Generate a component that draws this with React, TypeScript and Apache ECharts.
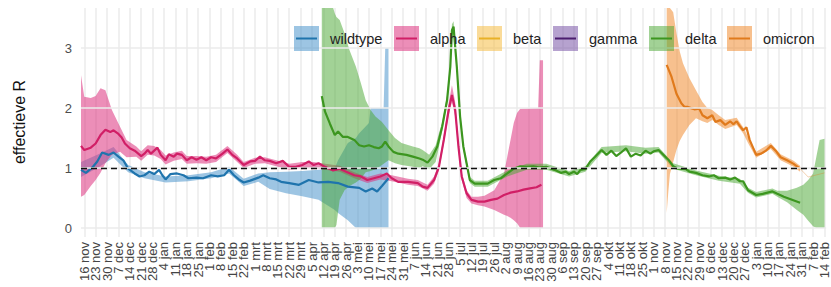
import React, { useEffect, useRef } from "react";
import * as echarts from "echarts";

const MONTHS = ["jan", "feb", "mrt", "apr", "mei", "jun", "jul", "aug", "sep", "okt", "nov", "dec"];
const FIRST_DAY = Date.UTC(2020, 10, 14);
const LAST_DAY = Date.UTC(2022, 1, 15);
const yGridValues = [0, 1, 2, 3];
const refLine = 1;

// [date, R]
const wildtypeLine: [string, number][] = [
  ["2020-11-14", 0.97], ["2020-11-17", 0.92], ["2020-11-21", 1.01], ["2020-11-24", 1.11], ["2020-11-27", 1.26],
  ["2020-12-01", 1.22], ["2020-12-04", 1.26], ["2020-12-07", 1.19], ["2020-12-10", 1.13], ["2020-12-13", 0.99],
  ["2020-12-17", 0.91], ["2020-12-20", 0.86], ["2020-12-23", 0.88], ["2020-12-26", 0.94], ["2020-12-29", 0.9],
  ["2021-01-01", 0.97], ["2021-01-03", 0.88], ["2021-01-05", 0.81], ["2021-01-08", 0.9], ["2021-01-12", 0.91],
  ["2021-01-16", 0.88], ["2021-01-19", 0.83], ["2021-01-24", 0.84], ["2021-01-28", 0.83], ["2021-02-02", 0.88],
  ["2021-02-06", 0.86], ["2021-02-10", 0.88], ["2021-02-13", 0.97], ["2021-02-16", 0.88], ["2021-02-19", 0.81],
  ["2021-02-22", 0.76], ["2021-02-26", 0.79], ["2021-03-03", 0.84], ["2021-03-06", 0.88], ["2021-03-10", 0.83],
  ["2021-03-14", 0.81], ["2021-03-17", 0.77], ["2021-03-22", 0.75], ["2021-03-28", 0.72], ["2021-04-03", 0.8],
  ["2021-04-09", 0.76], ["2021-04-15", 0.77], ["2021-04-21", 0.75], ["2021-04-27", 0.69], ["2021-05-04", 0.67],
  ["2021-05-08", 0.61], ["2021-05-12", 0.66], ["2021-05-15", 0.61], ["2021-05-18", 0.7], ["2021-05-22", 0.83],
];

const alphaLine: [string, number][] = [
  ["2020-11-14", 1.37], ["2020-11-16", 1.3], ["2020-11-20", 1.34], ["2020-11-23", 1.41], ["2020-11-26", 1.55],
  ["2020-11-29", 1.64], ["2020-12-02", 1.6], ["2020-12-04", 1.63], ["2020-12-07", 1.57], ["2020-12-09", 1.51],
  ["2020-12-11", 1.41], ["2020-12-14", 1.33], ["2020-12-17", 1.29], ["2020-12-21", 1.2], ["2020-12-23", 1.24],
  ["2020-12-25", 1.3], ["2020-12-27", 1.24], ["2020-12-29", 1.29], ["2020-12-31", 1.34], ["2021-01-02", 1.22],
  ["2021-01-05", 1.13], ["2021-01-07", 1.23], ["2021-01-10", 1.19], ["2021-01-12", 1.24], ["2021-01-15", 1.22],
  ["2021-01-18", 1.13], ["2021-01-21", 1.18], ["2021-01-24", 1.14], ["2021-01-27", 1.18], ["2021-01-30", 1.13],
  ["2021-02-02", 1.18], ["2021-02-05", 1.16], ["2021-02-09", 1.24], ["2021-02-12", 1.31], ["2021-02-15", 1.22],
  ["2021-02-18", 1.16], ["2021-02-22", 1.05], ["2021-02-26", 1.11], ["2021-03-01", 1.12], ["2021-03-04", 1.19],
  ["2021-03-07", 1.13], ["2021-03-10", 1.12], ["2021-03-14", 1.08], ["2021-03-18", 1.12], ["2021-03-22", 1.02],
  ["2021-03-26", 1.02], ["2021-03-30", 1.05], ["2021-04-03", 1.11], ["2021-04-06", 1.05], ["2021-04-09", 1.08],
  ["2021-04-13", 1.02], ["2021-04-18", 0.96], ["2021-04-22", 0.99], ["2021-04-26", 0.94], ["2021-05-01", 0.88],
  ["2021-05-05", 0.86], ["2021-05-09", 0.8], ["2021-05-13", 0.83], ["2021-05-17", 0.86], ["2021-05-21", 0.91],
  ["2021-05-24", 0.83], ["2021-05-28", 0.77], ["2021-06-03", 0.77], ["2021-06-09", 0.75], ["2021-06-12", 0.69],
  ["2021-06-15", 0.67], ["2021-06-19", 0.8], ["2021-06-22", 1.02], ["2021-06-25", 1.47], ["2021-06-28", 1.97],
  ["2021-06-30", 2.22], ["2021-07-02", 1.97], ["2021-07-04", 1.36], ["2021-07-06", 0.86], ["2021-07-09", 0.58],
  ["2021-07-12", 0.47], ["2021-07-16", 0.44], ["2021-07-20", 0.44], ["2021-07-24", 0.47], ["2021-07-28", 0.49],
  ["2021-08-01", 0.55], ["2021-08-05", 0.59], ["2021-08-09", 0.61], ["2021-08-13", 0.64], ["2021-08-17", 0.66],
  ["2021-08-21", 0.68], ["2021-08-24", 0.72],
];

const deltaLine: [string, number][] = [
  ["2021-04-11", 2.2], ["2021-04-13", 1.94], ["2021-04-16", 1.74], ["2021-04-19", 1.55], ["2021-04-21", 1.61],
  ["2021-04-24", 1.52], ["2021-04-27", 1.52], ["2021-05-01", 1.47], ["2021-05-04", 1.38], ["2021-05-07", 1.36],
  ["2021-05-10", 1.38], ["2021-05-13", 1.35], ["2021-05-16", 1.33], ["2021-05-18", 1.36], ["2021-05-20", 1.44],
  ["2021-05-22", 1.36], ["2021-05-25", 1.27], ["2021-05-28", 1.24], ["2021-06-02", 1.22], ["2021-06-06", 1.19],
  ["2021-06-10", 1.16], ["2021-06-12", 1.14], ["2021-06-15", 1.09], ["2021-06-18", 1.19], ["2021-06-21", 1.36],
  ["2021-06-24", 1.69], ["2021-06-27", 2.13], ["2021-06-29", 2.69], ["2021-06-30", 3.3], ["2021-07-01", 3.36],
  ["2021-07-03", 2.69], ["2021-07-05", 1.86], ["2021-07-07", 1.36], ["2021-07-09", 1.08], ["2021-07-11", 0.8],
  ["2021-07-14", 0.74], ["2021-07-18", 0.74], ["2021-07-22", 0.74], ["2021-07-26", 0.8], ["2021-07-30", 0.83],
  ["2021-08-03", 0.91], ["2021-08-07", 0.99], ["2021-08-11", 1.03], ["2021-08-15", 1.02], ["2021-08-19", 1.03],
  ["2021-08-23", 1.01], ["2021-08-27", 1.02], ["2021-09-01", 0.97], ["2021-09-05", 0.92], ["2021-09-08", 0.94],
  ["2021-09-10", 0.9], ["2021-09-13", 0.94], ["2021-09-15", 0.9], ["2021-09-17", 0.97], ["2021-09-20", 0.98],
  ["2021-09-23", 1.11], ["2021-09-26", 1.19], ["2021-09-30", 1.3], ["2021-10-03", 1.22], ["2021-10-06", 1.29],
  ["2021-10-09", 1.2], ["2021-10-12", 1.26], ["2021-10-15", 1.33], ["2021-10-18", 1.19], ["2021-10-21", 1.24],
  ["2021-10-24", 1.21], ["2021-10-27", 1.29], ["2021-10-30", 1.24], ["2021-11-01", 1.28], ["2021-11-04", 1.3],
  ["2021-11-07", 1.22], ["2021-11-10", 1.14], ["2021-11-13", 1.03], ["2021-11-16", 0.99], ["2021-11-21", 0.98],
  ["2021-11-23", 0.94], ["2021-11-27", 0.92], ["2021-12-01", 0.88], ["2021-12-05", 0.86], ["2021-12-08", 0.88],
  ["2021-12-11", 0.83], ["2021-12-15", 0.84], ["2021-12-18", 0.81], ["2021-12-21", 0.84], ["2021-12-24", 0.78],
  ["2021-12-26", 0.78], ["2021-12-29", 0.63], ["2022-01-03", 0.55], ["2022-01-07", 0.57], ["2022-01-10", 0.59],
  ["2022-01-13", 0.61], ["2022-01-16", 0.57], ["2022-01-20", 0.52], ["2022-01-25", 0.47], ["2022-01-30", 0.42],
];

const omicronLine: [string, number][] = [
  ["2021-11-09", 2.72], ["2021-11-12", 2.52], ["2021-11-15", 2.24], ["2021-11-18", 2.08], ["2021-11-20", 2.02],
  ["2021-11-22", 2.02], ["2021-11-24", 2.0], ["2021-11-26", 1.98], ["2021-11-29", 1.99], ["2021-12-01", 1.88],
  ["2021-12-04", 1.83], ["2021-12-07", 1.88], ["2021-12-09", 1.77], ["2021-12-12", 1.8], ["2021-12-15", 1.72],
  ["2021-12-18", 1.78], ["2021-12-20", 1.73], ["2021-12-22", 1.78], ["2021-12-24", 1.7], ["2021-12-26", 1.63],
  ["2021-12-28", 1.68], ["2021-12-30", 1.47], ["2022-01-03", 1.22], ["2022-01-06", 1.24], ["2022-01-09", 1.29],
  ["2022-01-12", 1.37], ["2022-01-15", 1.29], ["2022-01-18", 1.18], ["2022-01-22", 1.13], ["2022-01-26", 1.07],
  ["2022-01-30", 0.99],
];

const omicronTail: [string, number][] = [
  ["2022-01-30", 0.99], ["2022-02-04", 0.85], ["2022-02-14", 0.92],
];

// [date, lower, upper]
const wildtypeBand: [string, number, number][] = [
  ["2020-11-14", 0.85, 1.1], ["2020-11-24", 1.0, 1.22], ["2020-12-04", 1.17, 1.35], ["2020-12-13", 0.93, 1.05],
  ["2020-12-23", 0.83, 0.93], ["2021-01-05", 0.76, 0.86], ["2021-01-19", 0.78, 0.88], ["2021-02-02", 0.83, 0.93],
  ["2021-02-13", 0.91, 1.02], ["2021-02-22", 0.7, 0.82], ["2021-03-03", 0.77, 0.91], ["2021-03-10", 0.65, 0.93],
  ["2021-03-20", 0.58, 0.94], ["2021-03-30", 0.53, 0.95], ["2021-04-09", 0.47, 0.97], ["2021-04-19", 0.3, 1.0],
  ["2021-04-21", 0.25, 1.13], ["2021-04-27", 0.13, 1.42], ["2021-05-02", 0.0, 1.5], ["2021-05-04", 0.0, 1.58],
  ["2021-05-10", 0.0, 1.75], ["2021-05-11", 0.0, 2.0], ["2021-05-19", 0.0, 2.0], ["2021-05-20", 0.0, 3.0],
  ["2021-05-22", 0.0, 3.0],
];

const alphaBand: [string, number, number][] = [
  ["2020-11-14", 0.52, 2.55], ["2020-11-16", 0.55, 2.19], ["2020-11-20", 0.7, 2.17], ["2020-11-23", 0.8, 2.2],
  ["2020-11-26", 0.92, 2.33], ["2020-11-29", 1.08, 2.3], ["2020-12-03", 1.22, 1.97], ["2020-12-08", 1.27, 1.69],
  ["2020-12-12", 1.18, 1.47], ["2020-12-18", 1.19, 1.36], ["2020-12-21", 1.12, 1.28], ["2020-12-25", 1.22, 1.38],
  ["2020-12-29", 1.21, 1.37], ["2021-01-02", 1.15, 1.3], ["2021-01-05", 1.06, 1.21], ["2021-01-10", 1.12, 1.26],
  ["2021-01-15", 1.15, 1.29], ["2021-01-18", 1.07, 1.2], ["2021-01-24", 1.08, 1.2], ["2021-01-30", 1.07, 1.19],
  ["2021-02-05", 1.1, 1.22], ["2021-02-12", 1.25, 1.37], ["2021-02-18", 1.1, 1.22], ["2021-02-22", 1.0, 1.1],
  ["2021-03-01", 1.07, 1.17], ["2021-03-07", 1.08, 1.18], ["2021-03-14", 1.03, 1.13], ["2021-03-22", 0.97, 1.07],
  ["2021-03-30", 1.0, 1.1], ["2021-04-06", 1.0, 1.1], ["2021-04-13", 0.97, 1.07], ["2021-04-22", 0.94, 1.04],
  ["2021-05-01", 0.83, 0.93], ["2021-05-09", 0.75, 0.85], ["2021-05-17", 0.81, 0.91], ["2021-05-24", 0.78, 0.88],
  ["2021-06-03", 0.72, 0.82], ["2021-06-09", 0.7, 0.8], ["2021-06-15", 0.62, 0.72], ["2021-06-19", 0.74, 0.86],
  ["2021-06-22", 0.96, 1.08], ["2021-06-25", 1.4, 1.55], ["2021-06-28", 1.88, 2.08], ["2021-06-30", 2.1, 2.38],
  ["2021-07-02", 1.86, 2.1], ["2021-07-04", 1.28, 1.45], ["2021-07-06", 0.8, 0.93], ["2021-07-09", 0.5, 0.63],
  ["2021-07-12", 0.41, 0.52], ["2021-07-16", 0.38, 0.52], ["2021-07-20", 0.36, 0.54], ["2021-07-26", 0.3, 0.63],
  ["2021-08-01", 0.22, 0.91], ["2021-08-03", 0.2, 1.19], ["2021-08-05", 0.17, 1.47], ["2021-08-07", 0.13, 1.75],
  ["2021-08-09", 0.08, 1.92], ["2021-08-11", 0.0, 1.99], ["2021-08-22", 0.0, 2.0], ["2021-08-23", 0.0, 2.8],
  ["2021-08-25", 0.0, 2.8],
];

const deltaBand: [string, number, number][] = [
  ["2021-04-11", 0.0, 3.67], ["2021-04-18", 0.0, 3.67], ["2021-04-19", 0.0, 3.58], ["2021-04-20", 0.05, 3.52],
  ["2021-04-22", 0.47, 3.47], ["2021-04-25", 0.63, 3.25], ["2021-04-28", 0.7, 2.97], ["2021-05-02", 0.76, 2.69],
  ["2021-05-05", 0.82, 2.42], ["2021-05-08", 0.93, 2.13], ["2021-05-11", 0.95, 1.97], ["2021-05-14", 0.98, 1.86],
  ["2021-05-18", 1.05, 1.77], ["2021-05-22", 1.13, 1.63], ["2021-05-26", 1.08, 1.5], ["2021-05-30", 1.05, 1.42],
  ["2021-06-06", 1.02, 1.36], ["2021-06-10", 1.0, 1.33], ["2021-06-12", 1.03, 1.3], ["2021-06-16", 0.98, 1.22],
  ["2021-06-20", 1.1, 1.38], ["2021-06-22", 1.35, 1.58], ["2021-06-24", 1.62, 1.76], ["2021-06-27", 2.05, 2.21],
  ["2021-06-29", 2.6, 2.78], ["2021-06-30", 3.2, 3.4], ["2021-07-01", 3.27, 3.45], ["2021-07-03", 2.6, 2.78],
  ["2021-07-05", 1.78, 1.94], ["2021-07-07", 1.3, 1.42], ["2021-07-09", 1.02, 1.14], ["2021-07-11", 0.75, 0.85],
  ["2021-07-14", 0.69, 0.79], ["2021-07-22", 0.69, 0.79], ["2021-08-03", 0.86, 0.96], ["2021-08-15", 0.97, 1.07],
  ["2021-08-27", 0.97, 1.07], ["2021-09-10", 0.86, 0.95], ["2021-09-20", 0.94, 1.03], ["2021-09-30", 1.25, 1.35],
  ["2021-10-15", 1.28, 1.38], ["2021-10-27", 1.24, 1.34], ["2021-11-04", 1.26, 1.35], ["2021-11-13", 0.99, 1.08],
  ["2021-11-27", 0.88, 0.96], ["2021-12-11", 0.79, 0.87], ["2021-12-24", 0.74, 0.82], ["2021-12-29", 0.59, 0.67],
  ["2022-01-03", 0.51, 0.6], ["2022-01-13", 0.57, 0.66], ["2022-01-16", 0.52, 0.62], ["2022-01-22", 0.43, 0.62],
  ["2022-01-28", 0.3, 0.67], ["2022-02-01", 0.22, 0.72], ["2022-02-04", 0.12, 0.8], ["2022-02-07", 0.03, 0.91],
  ["2022-02-09", 0.0, 1.19], ["2022-02-11", 0.0, 1.47], ["2022-02-14", 0.0, 1.49],
];

const omicronBand: [string, number, number][] = [
  ["2021-11-09", 0.25, 3.67], ["2021-11-10", 0.6, 3.67], ["2021-11-11", 0.9, 3.67], ["2021-11-13", 1.1, 3.6],
  ["2021-11-15", 1.3, 3.25], ["2021-11-17", 1.45, 2.95], ["2021-11-19", 1.55, 2.75], ["2021-11-23", 1.72, 2.5],
  ["2021-11-27", 1.83, 2.3], ["2021-12-01", 1.78, 2.1], ["2021-12-04", 1.75, 2.0], ["2021-12-07", 1.8, 1.97],
  ["2021-12-11", 1.72, 1.88], ["2021-12-15", 1.65, 1.8], ["2021-12-22", 1.72, 1.84], ["2021-12-26", 1.58, 1.68],
  ["2021-12-29", 1.42, 1.52], ["2022-01-03", 1.17, 1.27], ["2022-01-12", 1.32, 1.42], ["2022-01-18", 1.13, 1.23],
  ["2022-01-26", 1.02, 1.12], ["2022-01-30", 0.94, 1.04],
];

const legendNames = ["wildtype", "alpha", "beta", "gamma", "delta", "omicron"];
const lineColors: Record<string, string> = {
  wildtype: "#1f74ad", alpha: "#d11f66", beta: "#e9b126", gamma: "#4b1d6e", delta: "#3c961f", omicron: "#e07a1c",
};
const bandFills: Record<string, string> = {
  wildtype: "rgba(60,140,200,0.5)", alpha: "rgba(220,50,125,0.55)", beta: "rgba(245,190,70,0.55)",
  gamma: "rgba(110,70,160,0.5)", delta: "rgba(70,165,45,0.5)", omicron: "rgba(240,140,50,0.55)",
};
const legendX = [294, 394, 477, 553, 649, 727];

const days: string[] = [];
for (let t = FIRST_DAY; t <= LAST_DAY; t += 86400000) days.push(new Date(t).toISOString().slice(0, 10));
const dayIndex: Record<string, number> = {};
days.forEach((d, i) => (dayIndex[d] = i));
const isMonday = (i: number) => new Date(days[i] + "T00:00:00Z").getUTCDay() === 1;
// the first and last category carry an empty label so the edge-label overlap rule never hides a date
const labelAt = (i: number) => i === 0 || i === days.length - 1 || isMonday(i);

const FONT = "'Liberation Sans', Arial, Helvetica, sans-serif";

function lineSeries(name: string, pts: [string, number][], color: string, extra: any = {}) {
  return {
    type: "line", name, silent: true, z: 4, symbol: "none", smooth: false,
    data: pts.map(([d, v]) => [dayIndex[d], v]),
    lineStyle: { color, width: 2.2 }, itemStyle: { color },
    ...extra,
  };
}

function bandSeries(name: string, pts: [string, number, number][], fill: string) {
  return {
    type: "custom", name: name + " band", silent: true, z: 2, clip: true,
    data: [[0, 0]],
    renderItem: (_p: any, api: any) => {
      const upper = pts.map((p) => api.coord([dayIndex[p[0]], p[2]]));
      const lower = pts.slice().reverse().map((p) => api.coord([dayIndex[p[0]], p[1]]));
      return { type: "polygon", shape: { points: upper.concat(lower) }, style: { fill } };
    },
  };
}

export default function App() {
  const ref = useRef<HTMLDivElement>(null);
  useEffect(() => {
    if (!ref.current) return;
    const chart = echarts.init(ref.current, undefined, { renderer: "svg" });

    const legendGraphics: any[] = [];
    legendNames.forEach((n, i) => {
      const x = legendX[i];
      legendGraphics.push({
        type: "rect", x, y: 26, shape: { width: 25, height: 25 }, style: { fill: bandFills[n] }, z: 100, silent: true,
      });
      legendGraphics.push({
        type: "line", shape: { x1: x + 2, y1: 38.5, x2: x + 23, y2: 38.5 }, style: { stroke: lineColors[n], lineWidth: 2 }, z: 101, silent: true,
      });
      legendGraphics.push({
        type: "text", x: x + 36, y: 39, z: 101, silent: true,
        style: { text: n, fontSize: 14.5, fontFamily: FONT, fill: "#222", align: "left", verticalAlign: "middle" },
      });
    });

    chart.setOption({
      animation: false,
      textStyle: { fontFamily: FONT },
      grid: { left: 81, right: 3.4, top: 8, bottom: 50 },
      xAxis: {
        type: "category", data: days, boundaryGap: false,
        axisLine: { show: false, onZero: false }, axisTick: { show: false },
        splitLine: { show: true, interval: (i: number) => isMonday(i), lineStyle: { color: "#ebebeb", width: 1.5 } },
        axisLabel: {
          interval: (i: number) => labelAt(i), rotate: 90, margin: 5, fontSize: 13, color: "#444",
          hideOverlap: false,
          formatter: (v: string) => {
            const i = dayIndex[v];
            if (!isMonday(i)) return "";
            const [, m, d] = v.split("-");
            return `${parseInt(d, 10)} ${MONTHS[parseInt(m, 10) - 1]}`;
          },
        },
      },
      yAxis: {
        type: "value", min: -0.15, max: 3.67,
        axisLine: { show: false }, axisTick: { show: false }, splitLine: { show: false },
        axisLabel: {
          margin: 9, fontSize: 13, color: "#4d4d4d",
          formatter: (v: number) => (Math.abs(v - Math.round(v)) < 1e-6 ? String(Math.round(v)) : ""),
        },
      },
      graphic: [
        {
          type: "text", x: 19, y: 122, rotation: Math.PI / 2, silent: true,
          style: { text: "effectieve R", fontSize: 16, fontFamily: FONT, fill: "#111", align: "center", verticalAlign: "middle" },
        },
        ...legendGraphics,
      ],
      series: [
        {
          type: "line", name: "grid", silent: true, z: 1, data: [],
          markLine: {
            silent: true, symbol: ["none", "none"], label: { show: false },
            lineStyle: { color: "#ebebeb", width: 1.5, type: "solid" },
            data: yGridValues.map((v) => ({ yAxis: v })),
          },
        },
        bandSeries("wildtype", wildtypeBand, bandFills.wildtype),
        bandSeries("alpha", alphaBand, bandFills.alpha),
        bandSeries("delta", deltaBand, bandFills.delta),
        bandSeries("omicron", omicronBand, bandFills.omicron),
        lineSeries("wildtype", wildtypeLine, lineColors.wildtype),
        lineSeries("alpha", alphaLine, lineColors.alpha),
        lineSeries("delta", deltaLine, lineColors.delta),
        lineSeries("omicron", omicronLine, lineColors.omicron),
        lineSeries("omicron tail", omicronTail, lineColors.omicron, { lineStyle: { color: lineColors.omicron, width: 1, opacity: 0.35 } }),
        {
          type: "line", name: "ref", silent: true, z: 6, data: [],
          markLine: {
            silent: true, symbol: ["none", "none"], label: { show: false },
            lineStyle: { color: "#111", width: 1.3, type: [6, 4] },
            data: [{ yAxis: refLine }],
          },
        },
      ],
    });
    return () => chart.dispose();
  }, []);
  return <div ref={ref} style={{ position: "absolute", left: 0, top: 0, width: 831, height: 287 }} />;
}
